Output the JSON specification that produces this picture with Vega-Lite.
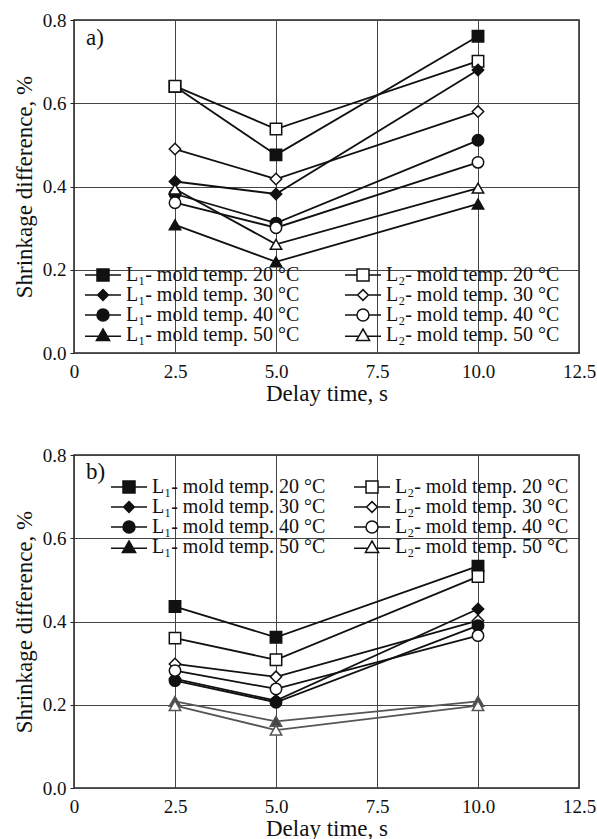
{
  "$schema": "https://vega.github.io/schema/vega-lite/v6.json",
  "padding": {"left": 12, "top": 10, "right": 0, "bottom": 0},
  "spacing": 39,
  "datasets": {
    "a": [
      {"s": "L\u2081- mold temp. 20 \u00b0C", "t": 2.5, "v": 0.640},
      {"s": "L\u2081- mold temp. 20 \u00b0C", "t": 5.0, "v": 0.476},
      {"s": "L\u2081- mold temp. 20 \u00b0C", "t": 10.0, "v": 0.761},
      {"s": "L\u2082- mold temp. 20 \u00b0C", "t": 2.5, "v": 0.641},
      {"s": "L\u2082- mold temp. 20 \u00b0C", "t": 5.0, "v": 0.538},
      {"s": "L\u2082- mold temp. 20 \u00b0C", "t": 10.0, "v": 0.701},
      {"s": "L\u2081- mold temp. 30 \u00b0C", "t": 2.5, "v": 0.412},
      {"s": "L\u2081- mold temp. 30 \u00b0C", "t": 5.0, "v": 0.382},
      {"s": "L\u2081- mold temp. 30 \u00b0C", "t": 10.0, "v": 0.680},
      {"s": "L\u2082- mold temp. 30 \u00b0C", "t": 2.5, "v": 0.490},
      {"s": "L\u2082- mold temp. 30 \u00b0C", "t": 5.0, "v": 0.418},
      {"s": "L\u2082- mold temp. 30 \u00b0C", "t": 10.0, "v": 0.580},
      {"s": "L\u2081- mold temp. 40 \u00b0C", "t": 2.5, "v": 0.382},
      {"s": "L\u2081- mold temp. 40 \u00b0C", "t": 5.0, "v": 0.312},
      {"s": "L\u2081- mold temp. 40 \u00b0C", "t": 10.0, "v": 0.511},
      {"s": "L\u2082- mold temp. 40 \u00b0C", "t": 2.5, "v": 0.361},
      {"s": "L\u2082- mold temp. 40 \u00b0C", "t": 5.0, "v": 0.301},
      {"s": "L\u2082- mold temp. 40 \u00b0C", "t": 10.0, "v": 0.458},
      {"s": "L\u2081- mold temp. 50 \u00b0C", "t": 2.5, "v": 0.308},
      {"s": "L\u2081- mold temp. 50 \u00b0C", "t": 5.0, "v": 0.219},
      {"s": "L\u2081- mold temp. 50 \u00b0C", "t": 10.0, "v": 0.358},
      {"s": "L\u2082- mold temp. 50 \u00b0C", "t": 2.5, "v": 0.394},
      {"s": "L\u2082- mold temp. 50 \u00b0C", "t": 5.0, "v": 0.261},
      {"s": "L\u2082- mold temp. 50 \u00b0C", "t": 10.0, "v": 0.396}
    ],
    "b": [
      {"s": "L\u2081- mold temp. 20 \u00b0C", "t": 2.5, "v": 0.436},
      {"s": "L\u2081- mold temp. 20 \u00b0C", "t": 5.0, "v": 0.362},
      {"s": "L\u2081- mold temp. 20 \u00b0C", "t": 10.0, "v": 0.533},
      {"s": "L\u2082- mold temp. 20 \u00b0C", "t": 2.5, "v": 0.360},
      {"s": "L\u2082- mold temp. 20 \u00b0C", "t": 5.0, "v": 0.308},
      {"s": "L\u2082- mold temp. 20 \u00b0C", "t": 10.0, "v": 0.508},
      {"s": "L\u2081- mold temp. 30 \u00b0C", "t": 2.5, "v": 0.262},
      {"s": "L\u2081- mold temp. 30 \u00b0C", "t": 5.0, "v": 0.210},
      {"s": "L\u2081- mold temp. 30 \u00b0C", "t": 10.0, "v": 0.430},
      {"s": "L\u2082- mold temp. 30 \u00b0C", "t": 2.5, "v": 0.298},
      {"s": "L\u2082- mold temp. 30 \u00b0C", "t": 5.0, "v": 0.267},
      {"s": "L\u2082- mold temp. 30 \u00b0C", "t": 10.0, "v": 0.402},
      {"s": "L\u2081- mold temp. 40 \u00b0C", "t": 2.5, "v": 0.258},
      {"s": "L\u2081- mold temp. 40 \u00b0C", "t": 5.0, "v": 0.206},
      {"s": "L\u2081- mold temp. 40 \u00b0C", "t": 10.0, "v": 0.390},
      {"s": "L\u2082- mold temp. 40 \u00b0C", "t": 2.5, "v": 0.282},
      {"s": "L\u2082- mold temp. 40 \u00b0C", "t": 5.0, "v": 0.238},
      {"s": "L\u2082- mold temp. 40 \u00b0C", "t": 10.0, "v": 0.366},
      {"s": "L\u2081- mold temp. 50 \u00b0C", "t": 2.5, "v": 0.208},
      {"s": "L\u2081- mold temp. 50 \u00b0C", "t": 5.0, "v": 0.160},
      {"s": "L\u2081- mold temp. 50 \u00b0C", "t": 10.0, "v": 0.208},
      {"s": "L\u2082- mold temp. 50 \u00b0C", "t": 2.5, "v": 0.198},
      {"s": "L\u2082- mold temp. 50 \u00b0C", "t": 5.0, "v": 0.139},
      {"s": "L\u2082- mold temp. 50 \u00b0C", "t": 10.0, "v": 0.198}
    ]
  },
  "resolve": {
    "scale": {"shape": "independent", "fill": "independent", "stroke": "independent"},
    "legend": {"shape": "independent", "fill": "independent", "stroke": "independent"}
  },
  "vconcat": [
    {
      "width": 505,
      "height": 333,
      "data": {"name": "a"},
      "resolve": {"scale": {"shape": "independent", "fill": "independent", "stroke": "independent"}, "legend": {"shape": "independent", "fill": "independent", "stroke": "independent"}},
      "layer": [
        {
          "mark": {"type": "line", "strokeWidth": 1.8},
          "encoding": {
            "x": {"field": "t", "type": "quantitative", "scale": {"domain": [0, 12.5], "nice": false}, "axis": {"values": [0, 2.5, 5, 7.5, 10, 12.5], "labelExpr": "datum.value == 0 ? '0' : format(datum.value, '.1f')", "title": "Delay time, s"}},
            "y": {"field": "v", "type": "quantitative", "scale": {"domain": [0, 0.8], "nice": false}, "axis": {"values": [0, 0.2, 0.4, 0.6, 0.8], "format": ".1f", "title": "Shrinkage difference, %"}},
            "stroke": {"field": "s", "type": "nominal", "legend": null,
              "scale": {"domain": ["L\u2081- mold temp. 20 \u00b0C", "L\u2082- mold temp. 20 \u00b0C", "L\u2081- mold temp. 30 \u00b0C", "L\u2082- mold temp. 30 \u00b0C", "L\u2081- mold temp. 40 \u00b0C", "L\u2082- mold temp. 40 \u00b0C", "L\u2081- mold temp. 50 \u00b0C", "L\u2082- mold temp. 50 \u00b0C"],
                "range": ["#111", "#111", "#111", "#111", "#111", "#111", "#111", "#111"]}}
          }
        },
        {
          "mark": {"type": "point", "size": 130, "strokeWidth": 1.5, "opacity": 1},
          "encoding": {
            "x": {"field": "t", "type": "quantitative"},
            "y": {"field": "v", "type": "quantitative"},
            "shape": {"field": "s", "type": "nominal", "legend": null,
              "scale": {"domain": ["L\u2081- mold temp. 20 \u00b0C", "L\u2082- mold temp. 20 \u00b0C", "L\u2081- mold temp. 30 \u00b0C", "L\u2082- mold temp. 30 \u00b0C", "L\u2081- mold temp. 40 \u00b0C", "L\u2082- mold temp. 40 \u00b0C", "L\u2081- mold temp. 50 \u00b0C", "L\u2082- mold temp. 50 \u00b0C"],
                "range": ["square", "square", "diamond", "diamond", "circle", "circle", "triangle-up", "triangle-up"]}},
            "fill": {"field": "s", "type": "nominal", "legend": null,
              "scale": {"domain": ["L\u2081- mold temp. 20 \u00b0C", "L\u2082- mold temp. 20 \u00b0C", "L\u2081- mold temp. 30 \u00b0C", "L\u2082- mold temp. 30 \u00b0C", "L\u2081- mold temp. 40 \u00b0C", "L\u2082- mold temp. 40 \u00b0C", "L\u2081- mold temp. 50 \u00b0C", "L\u2082- mold temp. 50 \u00b0C"],
                "range": ["#111", "white", "#111", "white", "#111", "white", "#111", "white"]}},
            "stroke": {"field": "s", "type": "nominal", "legend": null,
              "scale": {"domain": ["L\u2081- mold temp. 20 \u00b0C", "L\u2082- mold temp. 20 \u00b0C", "L\u2081- mold temp. 30 \u00b0C", "L\u2082- mold temp. 30 \u00b0C", "L\u2081- mold temp. 40 \u00b0C", "L\u2082- mold temp. 40 \u00b0C", "L\u2081- mold temp. 50 \u00b0C", "L\u2082- mold temp. 50 \u00b0C"],
                "range": ["#111", "#111", "#111", "#111", "#111", "#111", "#111", "#111"]}}
          }
        },
        {
          "mark": {"type": "point", "size": 130, "strokeWidth": 1.5, "opacity": 0},
          "encoding": {
            "x": {"field": "t", "type": "quantitative"},
            "y": {"field": "v", "type": "quantitative"},
            "shape": {"field": "s", "type": "nominal",
              "scale": {"domain": ["L\u2081- mold temp. 20 \u00b0C", "L\u2081- mold temp. 30 \u00b0C", "L\u2081- mold temp. 40 \u00b0C", "L\u2081- mold temp. 50 \u00b0C", "L\u2082- mold temp. 20 \u00b0C", "L\u2082- mold temp. 30 \u00b0C", "L\u2082- mold temp. 40 \u00b0C", "L\u2082- mold temp. 50 \u00b0C"],
                "range": ["M-3,0H-1M1,0H3M-1,-1H1V1H-1Z", "M-3,0H-0.9M0.9,0H3M0,-0.9L0.9,0L0,0.9L-0.9,0Z", "M-3,0H-1M1,0H3M-1,0A1,1,0,1,1,1,0A1,1,0,1,1,-1,0Z", "M-3,0.2H-0.7M0.7,0.2H3M0,-1L1.1,0.9H-1.1Z", "M-3,0H-1M1,0H3M-1,-1H1V1H-1Z", "M-3,0H-0.9M0.9,0H3M0,-0.9L0.9,0L0,0.9L-0.9,0Z", "M-3,0H-1M1,0H3M-1,0A1,1,0,1,1,1,0A1,1,0,1,1,-1,0Z", "M-3,0.2H-0.7M0.7,0.2H3M0,-1L1.1,0.9H-1.1Z"]},
              "legend": {"title": null, "orient": "none", "legendX": 19, "legendY": 245, "columns": 2, "symbolSize": 144, "symbolStrokeWidth": 1.5, "symbolOpacity": 1, "labelOffset": 13, "columnPadding": 42, "rowPadding": 0, "labelFont": "Liberation Serif", "labelFontSize": 20, "labelColor": "#111", "labelLimit": 400, "padding": 0}},
            "fill": {"field": "s", "type": "nominal",
              "scale": {"domain": ["L\u2081- mold temp. 20 \u00b0C", "L\u2081- mold temp. 30 \u00b0C", "L\u2081- mold temp. 40 \u00b0C", "L\u2081- mold temp. 50 \u00b0C", "L\u2082- mold temp. 20 \u00b0C", "L\u2082- mold temp. 30 \u00b0C", "L\u2082- mold temp. 40 \u00b0C", "L\u2082- mold temp. 50 \u00b0C"],
                "range": ["#111", "#111", "#111", "#111", "white", "white", "white", "white"]},
              "legend": {"title": null, "orient": "none", "legendX": 19, "legendY": 245, "columns": 2, "symbolSize": 144, "symbolStrokeWidth": 1.5, "symbolOpacity": 1, "labelOffset": 13, "columnPadding": 42, "rowPadding": 0, "labelFont": "Liberation Serif", "labelFontSize": 20, "labelColor": "#111", "labelLimit": 400, "padding": 0}},
            "stroke": {"field": "s", "type": "nominal",
              "scale": {"domain": ["L\u2081- mold temp. 20 \u00b0C", "L\u2081- mold temp. 30 \u00b0C", "L\u2081- mold temp. 40 \u00b0C", "L\u2081- mold temp. 50 \u00b0C", "L\u2082- mold temp. 20 \u00b0C", "L\u2082- mold temp. 30 \u00b0C", "L\u2082- mold temp. 40 \u00b0C", "L\u2082- mold temp. 50 \u00b0C"],
                "range": ["#111", "#111", "#111", "#111", "#111", "#111", "#111", "#111"]},
              "legend": {"title": null, "orient": "none", "legendX": 19, "legendY": 245, "columns": 2, "symbolSize": 144, "symbolStrokeWidth": 1.5, "symbolOpacity": 1, "labelOffset": 13, "columnPadding": 42, "rowPadding": 0, "labelFont": "Liberation Serif", "labelFontSize": 20, "labelColor": "#111", "labelLimit": 400, "padding": 0}}
          }
        },
        {
          "data": {"values": [{}]},
          "mark": {"type": "text", "align": "left", "baseline": "alphabetic", "fontSize": 23, "font": "Liberation Serif", "color": "#111"},
          "encoding": {"x": {"datum": 0.3}, "y": {"datum": 0.74}, "text": {"value": "a)"}}
        }
      ]
    },
    {
      "width": 505,
      "height": 333,
      "data": {"name": "b"},
      "resolve": {"scale": {"shape": "independent", "fill": "independent", "stroke": "independent"}, "legend": {"shape": "independent", "fill": "independent", "stroke": "independent"}},
      "layer": [
        {
          "mark": {"type": "line", "strokeWidth": 1.8},
          "encoding": {
            "x": {"field": "t", "type": "quantitative", "scale": {"domain": [0, 12.5], "nice": false}, "axis": {"values": [0, 2.5, 5, 7.5, 10, 12.5], "labelExpr": "datum.value == 0 ? '0' : format(datum.value, '.1f')", "title": "Delay time, s"}},
            "y": {"field": "v", "type": "quantitative", "scale": {"domain": [0, 0.8], "nice": false}, "axis": {"values": [0, 0.2, 0.4, 0.6, 0.8], "format": ".1f", "title": "Shrinkage difference, %"}},
            "stroke": {"field": "s", "type": "nominal", "legend": null,
              "scale": {"domain": ["L\u2081- mold temp. 20 \u00b0C", "L\u2082- mold temp. 20 \u00b0C", "L\u2081- mold temp. 30 \u00b0C", "L\u2082- mold temp. 30 \u00b0C", "L\u2081- mold temp. 40 \u00b0C", "L\u2082- mold temp. 40 \u00b0C", "L\u2081- mold temp. 50 \u00b0C", "L\u2082- mold temp. 50 \u00b0C"],
                "range": ["#111", "#111", "#111", "#111", "#111", "#111", "#555", "#555"]}}
          }
        },
        {
          "mark": {"type": "point", "size": 130, "strokeWidth": 1.5, "opacity": 1},
          "encoding": {
            "x": {"field": "t", "type": "quantitative"},
            "y": {"field": "v", "type": "quantitative"},
            "shape": {"field": "s", "type": "nominal", "legend": null,
              "scale": {"domain": ["L\u2081- mold temp. 20 \u00b0C", "L\u2082- mold temp. 20 \u00b0C", "L\u2081- mold temp. 30 \u00b0C", "L\u2082- mold temp. 30 \u00b0C", "L\u2081- mold temp. 40 \u00b0C", "L\u2082- mold temp. 40 \u00b0C", "L\u2081- mold temp. 50 \u00b0C", "L\u2082- mold temp. 50 \u00b0C"],
                "range": ["square", "square", "diamond", "diamond", "circle", "circle", "triangle-up", "triangle-up"]}},
            "fill": {"field": "s", "type": "nominal", "legend": null,
              "scale": {"domain": ["L\u2081- mold temp. 20 \u00b0C", "L\u2082- mold temp. 20 \u00b0C", "L\u2081- mold temp. 30 \u00b0C", "L\u2082- mold temp. 30 \u00b0C", "L\u2081- mold temp. 40 \u00b0C", "L\u2082- mold temp. 40 \u00b0C", "L\u2081- mold temp. 50 \u00b0C", "L\u2082- mold temp. 50 \u00b0C"],
                "range": ["#111", "white", "#111", "white", "#111", "white", "#444", "white"]}},
            "stroke": {"field": "s", "type": "nominal", "legend": null,
              "scale": {"domain": ["L\u2081- mold temp. 20 \u00b0C", "L\u2082- mold temp. 20 \u00b0C", "L\u2081- mold temp. 30 \u00b0C", "L\u2082- mold temp. 30 \u00b0C", "L\u2081- mold temp. 40 \u00b0C", "L\u2082- mold temp. 40 \u00b0C", "L\u2081- mold temp. 50 \u00b0C", "L\u2082- mold temp. 50 \u00b0C"],
                "range": ["#111", "#111", "#111", "#111", "#111", "#111", "#555", "#555"]}}
          }
        },
        {
          "mark": {"type": "point", "size": 130, "strokeWidth": 1.5, "opacity": 0},
          "encoding": {
            "x": {"field": "t", "type": "quantitative"},
            "y": {"field": "v", "type": "quantitative"},
            "shape": {"field": "s", "type": "nominal",
              "scale": {"domain": ["L\u2081- mold temp. 20 \u00b0C", "L\u2081- mold temp. 30 \u00b0C", "L\u2081- mold temp. 40 \u00b0C", "L\u2081- mold temp. 50 \u00b0C", "L\u2082- mold temp. 20 \u00b0C", "L\u2082- mold temp. 30 \u00b0C", "L\u2082- mold temp. 40 \u00b0C", "L\u2082- mold temp. 50 \u00b0C"],
                "range": ["M-3,0H-1M1,0H3M-1,-1H1V1H-1Z", "M-3,0H-0.9M0.9,0H3M0,-0.9L0.9,0L0,0.9L-0.9,0Z", "M-3,0H-1M1,0H3M-1,0A1,1,0,1,1,1,0A1,1,0,1,1,-1,0Z", "M-3,0.2H-0.7M0.7,0.2H3M0,-1L1.1,0.9H-1.1Z", "M-3,0H-1M1,0H3M-1,-1H1V1H-1Z", "M-3,0H-0.9M0.9,0H3M0,-0.9L0.9,0L0,0.9L-0.9,0Z", "M-3,0H-1M1,0H3M-1,0A1,1,0,1,1,1,0A1,1,0,1,1,-1,0Z", "M-3,0.2H-0.7M0.7,0.2H3M0,-1L1.1,0.9H-1.1Z"]},
              "legend": {"title": null, "orient": "none", "legendX": 45, "legendY": 22, "columns": 2, "symbolSize": 144, "symbolStrokeWidth": 1.5, "symbolOpacity": 1, "labelOffset": 13, "columnPadding": 25, "rowPadding": 0, "labelFont": "Liberation Serif", "labelFontSize": 20, "labelColor": "#111", "labelLimit": 400, "padding": 0}},
            "fill": {"field": "s", "type": "nominal",
              "scale": {"domain": ["L\u2081- mold temp. 20 \u00b0C", "L\u2081- mold temp. 30 \u00b0C", "L\u2081- mold temp. 40 \u00b0C", "L\u2081- mold temp. 50 \u00b0C", "L\u2082- mold temp. 20 \u00b0C", "L\u2082- mold temp. 30 \u00b0C", "L\u2082- mold temp. 40 \u00b0C", "L\u2082- mold temp. 50 \u00b0C"],
                "range": ["#111", "#111", "#111", "#111", "white", "white", "white", "white"]},
              "legend": {"title": null, "orient": "none", "legendX": 45, "legendY": 22, "columns": 2, "symbolSize": 144, "symbolStrokeWidth": 1.5, "symbolOpacity": 1, "labelOffset": 13, "columnPadding": 25, "rowPadding": 0, "labelFont": "Liberation Serif", "labelFontSize": 20, "labelColor": "#111", "labelLimit": 400, "padding": 0}},
            "stroke": {"field": "s", "type": "nominal",
              "scale": {"domain": ["L\u2081- mold temp. 20 \u00b0C", "L\u2081- mold temp. 30 \u00b0C", "L\u2081- mold temp. 40 \u00b0C", "L\u2081- mold temp. 50 \u00b0C", "L\u2082- mold temp. 20 \u00b0C", "L\u2082- mold temp. 30 \u00b0C", "L\u2082- mold temp. 40 \u00b0C", "L\u2082- mold temp. 50 \u00b0C"],
                "range": ["#111", "#111", "#111", "#111", "#111", "#111", "#111", "#111"]},
              "legend": {"title": null, "orient": "none", "legendX": 45, "legendY": 22, "columns": 2, "symbolSize": 144, "symbolStrokeWidth": 1.5, "symbolOpacity": 1, "labelOffset": 13, "columnPadding": 25, "rowPadding": 0, "labelFont": "Liberation Serif", "labelFontSize": 20, "labelColor": "#111", "labelLimit": 400, "padding": 0}}
          }
        },
        {
          "data": {"values": [{}]},
          "mark": {"type": "text", "align": "left", "baseline": "alphabetic", "fontSize": 23, "font": "Liberation Serif", "color": "#111"},
          "encoding": {"x": {"datum": 0.3}, "y": {"datum": 0.742}, "text": {"value": "b)"}}
        }
      ]
    }
  ],
  "config": {
    "font": "Liberation Serif",
    "view": {"stroke": "#222", "strokeWidth": 1.5},
    "axis": {"grid": true, "gridColor": "#444", "gridOpacity": 1, "gridWidth": 1, "domain": false, "labelFont": "Liberation Serif", "labelFontSize": 19, "labelColor": "#111", "labelFlush": false, "labelOverlap": false, "titleFont": "Liberation Serif", "titleFontSize": 23, "titleFontWeight": "normal", "titleColor": "#111"},
    "axisX": {"ticks": false, "labelPadding": 9, "titlePadding": 1},
    "axisY": {"ticks": true, "tickSize": 4, "tickColor": "#222", "labelPadding": 4, "titlePadding": 6}
  }
}
